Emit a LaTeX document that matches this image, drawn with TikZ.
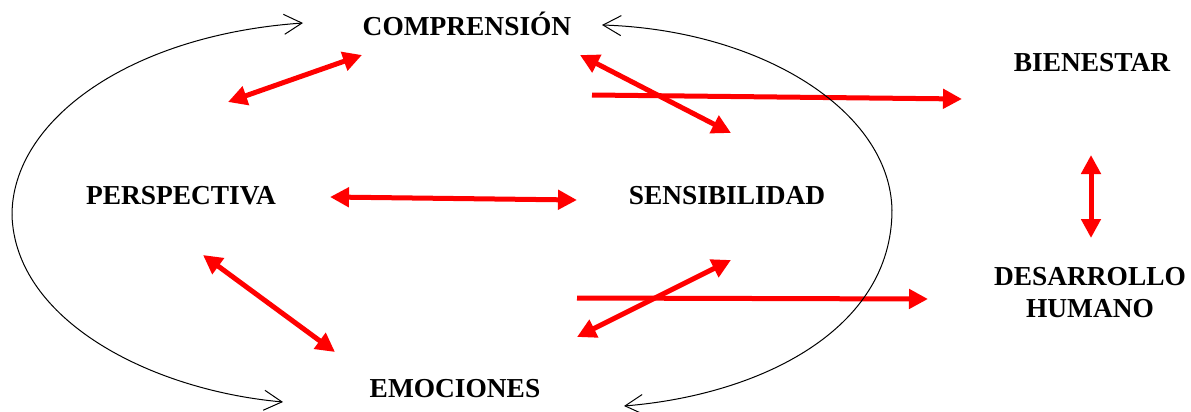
\documentclass[tikz,border=0pt]{standalone}
\usepackage{fontspec}
\setmainfont{Liberation Serif}
\usetikzlibrary{arrows.meta}
\begin{document}
\begin{tikzpicture}[x=0.5pt,y=-0.5pt,
  lbl/.style={font=\fontsize{13.7}{16}\selectfont\bfseries, inner sep=0pt, align=center},
  redarr/.style={draw=red, line width=2.5pt, -{Triangle[length=9.5pt,width=9.5pt]}},
  redbi/.style={draw=red, line width=2.5pt, {Triangle[length=9.5pt,width=9.5pt]}-{Triangle[length=9.5pt,width=9.5pt]}},
  cycle/.style={draw=black, line width=0.5pt, -{Straight Barb[length=9pt,width=10pt,line width=0.5pt]}}]
\useasboundingbox (0,0) rectangle (1191,412);
% labels
\node[lbl] (comp) at (467,24) {COMPRENSIÓN};
\node[lbl] (bien) at (1092,63) {BIENESTAR};
\node[lbl] (pers) at (181,196) {PERSPECTIVA};
\node[lbl] (sens) at (727,196) {SENSIBILIDAD};
\node[lbl] (emoc) at (455,389) {EMOCIONES};
\node[lbl] (desa) at (1090,293) {DESARROLLO\\HUMANO};
% coordinates for red arrows
\coordinate (a1) at (228,102); \coordinate (b1) at (362,55);
\coordinate (a2) at (330,197); \coordinate (b2) at (577,200);
\coordinate (a3) at (580,55);  \coordinate (b3) at (731,133);
\coordinate (a4) at (592,95);  \coordinate (b4) at (962,99);
\coordinate (a5) at (1091,155); \coordinate (b5) at (1091,238);
\coordinate (a6) at (203,255); \coordinate (b6) at (335,352);
\coordinate (a7) at (577,298); \coordinate (b7) at (928,299);
\coordinate (a8) at (577,337); \coordinate (b8) at (731,260);
\draw[redbi] (a1) -- (b1);
\draw[redbi] (a2) -- (b2);
\draw[redbi] (a3) -- (b3);
\draw[redarr] (a4) -- (b4);
\draw[redbi] (a5) -- (b5);
\draw[redbi] (a6) -- (b6);
\draw[redarr] (a7) -- (b7);
\draw[redbi] (a8) -- (b8);
% black cycle arcs
\coordinate (lt) at (303,23); \coordinate (lm) at (12,215); \coordinate (lb) at (283,402);
\coordinate (rt) at (602,25); \coordinate (rm) at (892,210); \coordinate (rb) at (624,406);
\draw[cycle] (lm) .. controls (12,120) and (130,35) .. (lt);
\draw[cycle] (lm) .. controls (15,320) and (150,390) .. (lb);
\draw[cycle] (rm) .. controls (890,110) and (760,30) .. (rt);
\draw[cycle] (rm) .. controls (892,330) and (760,395) .. (rb);
\end{tikzpicture}
\end{document}
